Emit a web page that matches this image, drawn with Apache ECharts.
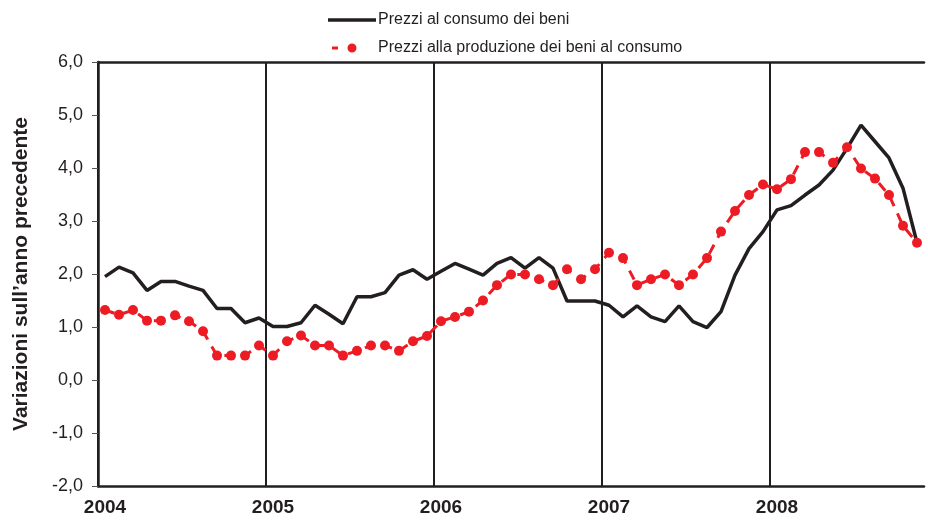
<!DOCTYPE html>
<html>
<head>
<meta charset="utf-8">
<script src="https://cdn.jsdelivr.net/npm/echarts@6/dist/echarts.min.js"></script>
<style>
  html, body { margin: 0; padding: 0; background: #fff; }
  #chart { width: 928px; height: 520px; }
</style>
</head>
<body>
<div id="chart"></div>
<script>
'use strict';

// mesi gen 2004 - nov 2008
const years = ['2004', '2005', '2006', '2007', '2008'];
const months = [];
years.forEach(function (y) {
    for (let m = 1; m <= 12; m++) {
        if (y === '2008' && m > 11) break;
        months.push(y + '-' + (m < 10 ? '0' + m : m));
    }
});

// Prezzi al consumo dei beni
const consumo = [
    1.95, 2.13, 2.02, 1.69, 1.86, 1.86, 1.77, 1.69, 1.35, 1.35, 1.08, 1.17,
    1.01, 1.01, 1.08, 1.41, 1.24, 1.06, 1.57, 1.57, 1.65, 1.98, 2.08, 1.90,
    2.05, 2.20, 2.09, 1.98, 2.20, 2.31, 2.11, 2.31, 2.11, 1.49, 1.49, 1.49,
    1.41, 1.19, 1.40, 1.19, 1.10, 1.40, 1.10, 0.99, 1.29, 1.98, 2.48, 2.80,
    3.21, 3.29, 3.49, 3.68, 3.96, 4.37, 4.81, 4.50, 4.19, 3.62, 2.59
];

// Prezzi alla produzione dei beni al consumo
const produzione = [
    1.32, 1.23, 1.32, 1.12, 1.12, 1.22, 1.11, 0.92, 0.46, 0.46, 0.46, 0.65,
    0.46, 0.73, 0.84, 0.65, 0.65, 0.46, 0.55, 0.65, 0.65, 0.55, 0.73, 0.83,
    1.11, 1.19, 1.29, 1.50, 1.79, 1.99, 1.99, 1.90, 1.79, 2.09, 1.90, 2.09,
    2.40, 2.30, 1.79, 1.90, 1.99, 1.79, 1.99, 2.30, 2.80, 3.19, 3.49, 3.69,
    3.60, 3.79, 4.30, 4.30, 4.10, 4.39, 3.99, 3.80, 3.49, 2.91, 2.59
];

const yMin = -2;
const yMax = 6;
const yStep = 1;

const black = '#231f20';
const red = '#ed1c24';
const font = '"Liberation Sans", Arial, sans-serif';

// icone della legenda (riquadro 48x14, i punti agli angoli fissano la scala)
const iconConsumo = 'path://M0,0 L0,0 M48,14 L48,14 M0,5.3 L48,5.3 L48,8.7 L0,8.7 Z';
const iconProduzione = 'path://M0,0 L0,0 M48,14 L48,14 M4,5.5 L10,5.5 L10,8.5 L4,8.5 Z ' +
    'M19.5,7 A4.5,4.5 0 1 1 28.5,7 A4.5,4.5 0 1 1 19.5,7 Z';

const myChart = echarts.init(document.getElementById('chart'));

const option = {
    animation: false,
    textStyle: { fontFamily: font },
    legend: {
        orient: 'vertical',
        left: 323,
        top: 7,
        itemWidth: 48,
        itemHeight: 14,
        itemGap: 12,
        textStyle: { fontSize: 16, color: black, fontFamily: font, padding: [0, 0, 0, -3] },
        data: [
            { name: 'Prezzi al consumo dei beni', icon: iconConsumo },
            { name: 'Prezzi alla produzione dei beni al consumo', icon: iconProduzione }
        ]
    },
    grid: { left: 98, right: 4, top: 62, bottom: 34 },
    xAxis: [{
        type: 'category',
        data: months,
        boundaryGap: true,
        axisLine: { onZero: false, lineStyle: { color: black, width: 2.5 } },
        axisTick: { show: false },
        axisLabel: {
            interval: function (i) { return i % 12 === 0; },
            formatter: function (v) { return v.slice(0, 4); },
            fontSize: 19,
            fontWeight: 'bold',
            color: black,
            margin: 12
        },
        splitLine: {
            show: true,
            showMaxLine: false,
            interval: function (i) { return i % 12 === 0; },
            lineStyle: { color: black, width: 2 }
        }
    }, {
        // solo la linea superiore del riquadro
        type: 'category',
        position: 'top',
        data: months,
        axisLine: { onZero: false, lineStyle: { color: black, width: 2.5 } },
        axisTick: { show: false },
        axisLabel: { show: false },
        splitLine: { show: false }
    }],
    yAxis: {
        type: 'value',
        min: yMin,
        max: yMax,
        interval: yStep,
        name: 'Variazioni sull\u2019anno precedente',
        nameLocation: 'middle',
        nameGap: 66,
        nameTextStyle: { fontSize: 21, fontWeight: 'bold', color: black, fontFamily: font },
        axisLine: { show: true, lineStyle: { color: black, width: 2.5 } },
        axisTick: { show: true, length: 6, lineStyle: { color: '#555', width: 1 } },
        axisLabel: {
            fontSize: 18,
            color: black,
            margin: 15,
            formatter: function (v) { return v.toFixed(1).replace('.', ','); }
        },
        splitLine: { show: false }
    },
    series: [{
        name: 'Prezzi al consumo dei beni',
        type: 'line',
        data: consumo,
        symbol: 'none',
        itemStyle: { color: black },
        lineStyle: { color: black, width: 3.5 }
    }, {
        name: 'Prezzi alla produzione dei beni al consumo',
        type: 'line',
        data: produzione,
        symbol: 'circle',
        symbolSize: 10,
        showAllSymbol: true,
        itemStyle: { color: red },
        lineStyle: { color: red, width: 3, type: [10, 8] }
    }]
};

myChart.setOption(option);
</script>
</body>
</html>
